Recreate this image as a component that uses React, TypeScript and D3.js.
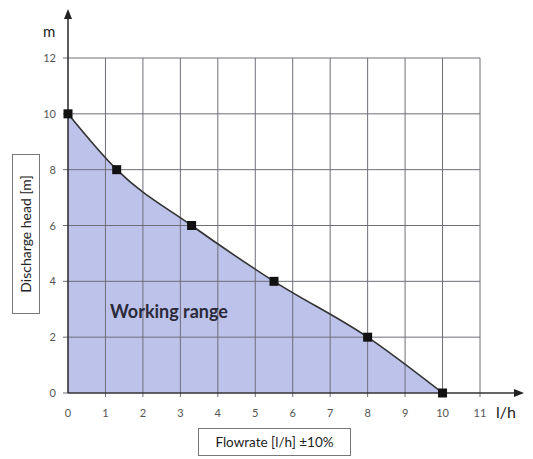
import React, { useEffect, useRef } from 'react';
import * as d3 from 'd3';

// curve points
const flow = [0, 1.3, 3.3, 5.5, 8, 10];
const head = [10, 8, 6, 4, 2, 0];
const xTicks = [0, 1, 2, 3, 4, 5, 6, 7, 8, 9, 10, 11];
const yTicks = [0, 2, 4, 6, 8, 10, 12];

const App = () => {
  const ref = useRef<SVGSVGElement>(null);

  useEffect(() => {
    if (!ref.current) return;
    const svg = d3.select(ref.current);
    svg.selectAll('*').remove();

    const font = 'Lato, "Open Sans", sans-serif';
    const x = d3.scaleLinear().domain([0, 11]).range([68, 480]);
    const y = d3.scaleLinear().domain([0, 12]).range([393, 58]);
    const pts = flow.map((f, i) => [f, head[i]] as [number, number]);

    // white plot background
    svg.append('rect').attr('width', 533).attr('height', 459).attr('fill', '#fff');

    // working range area
    const area = d3.area<[number, number]>()
      .x(d => x(d[0])).y0(y(0)).y1(d => y(d[1]))
      .curve(d3.curveMonotoneX);
    svg.append('path').datum(pts).attr('d', area).attr('fill', '#bcc2ea');

    // grid
    const g = svg.append('g').attr('stroke', '#6e6e78').attr('stroke-width', 1);
    xTicks.slice(1).forEach(t => {
      g.append('line').attr('x1', x(t)).attr('x2', x(t)).attr('y1', y(12)).attr('y2', y(0) + 4);
    });
    yTicks.slice(1).forEach(t => {
      g.append('line').attr('x1', x(0) - 5).attr('x2', x(11)).attr('y1', y(t)).attr('y2', y(t));
    });
    g.append('line').attr('x1', x(0) - 5).attr('x2', x(0)).attr('y1', y(0)).attr('y2', y(0));

    // curve line
    const line = d3.line<[number, number]>()
      .x(d => x(d[0])).y(d => y(d[1]))
      .curve(d3.curveMonotoneX);
    svg.append('path').datum(pts).attr('d', line)
      .attr('fill', 'none').attr('stroke', '#333').attr('stroke-width', 1.6);

    // axes with arrows
    svg.append('line').attr('x1', x(0)).attr('x2', 518).attr('y1', y(0)).attr('y2', y(0))
      .attr('stroke', '#333').attr('stroke-width', 1.6);
    svg.append('line').attr('x1', x(0)).attr('x2', x(0)).attr('y1', y(0)).attr('y2', 16)
      .attr('stroke', '#333').attr('stroke-width', 1.6);
    svg.append('path').attr('d', `M524,${y(0)} L514,${y(0) - 4} L514,${y(0) + 4} Z`).attr('fill', '#222');
    svg.append('path').attr('d', `M${x(0)},9 L${x(0) - 4},19 L${x(0) + 4},19 Z`).attr('fill', '#222');

    // markers
    svg.selectAll('rect.pt').data(pts).enter().append('rect')
      .attr('class', 'pt')
      .attr('x', d => x(d[0]) - 4.5).attr('y', d => y(d[1]) - 4.5)
      .attr('width', 9).attr('height', 9).attr('fill', '#111');

    // tick labels
    svg.selectAll('text.xt').data(xTicks).enter().append('text')
      .attr('class', 'xt')
      .attr('x', d => x(d)).attr('y', 417)
      .attr('text-anchor', 'middle').attr('font-family', font).attr('font-size', 11)
      .attr('fill', '#555').text(d => d);
    svg.selectAll('text.yt').data(yTicks).enter().append('text')
      .attr('class', 'yt')
      .attr('x', 56).attr('y', d => y(d) + 4)
      .attr('text-anchor', 'end').attr('font-family', font).attr('font-size', 11)
      .attr('fill', '#555').text(d => d);

    // unit labels
    svg.append('text').attr('x', 43).attr('y', 37).attr('font-family', font)
      .attr('font-size', 15).attr('fill', '#222').text('m');
    svg.append('text').attr('x', 496).attr('y', 418).attr('font-family', font)
      .attr('font-size', 16).attr('fill', '#222').text('l/h');

    // working range label
    svg.append('text').attr('x', 110).attr('y', 318).attr('font-family', font)
      .attr('font-size', 18).attr('font-weight', 'bold').attr('fill', '#2a2a3a')
      .text('Working range');

    // axis title boxes
    svg.append('rect').attr('x', 12.5).attr('y', 154.5).attr('width', 27).attr('height', 159)
      .attr('fill', '#fff').attr('stroke', '#777');
    svg.append('text').attr('transform', 'translate(31,234) rotate(-90)')
      .attr('text-anchor', 'middle').attr('font-family', font).attr('font-size', 14)
      .attr('fill', '#222').text('Discharge head [m]');
    svg.append('rect').attr('x', 198.5).attr('y', 428.5).attr('width', 152).attr('height', 27)
      .attr('fill', '#fff').attr('stroke', '#777');
    svg.append('text').attr('x', 274.5).attr('y', 447)
      .attr('text-anchor', 'middle').attr('font-family', font).attr('font-size', 13.5)
      .attr('fill', '#222').text('Flowrate [l/h] ±10%');
  }, []);

  return (
    <svg ref={ref} width={533} height={459}
      style={{ position: 'absolute', left: 0, top: 0 }} />
  );
};

export default App;
